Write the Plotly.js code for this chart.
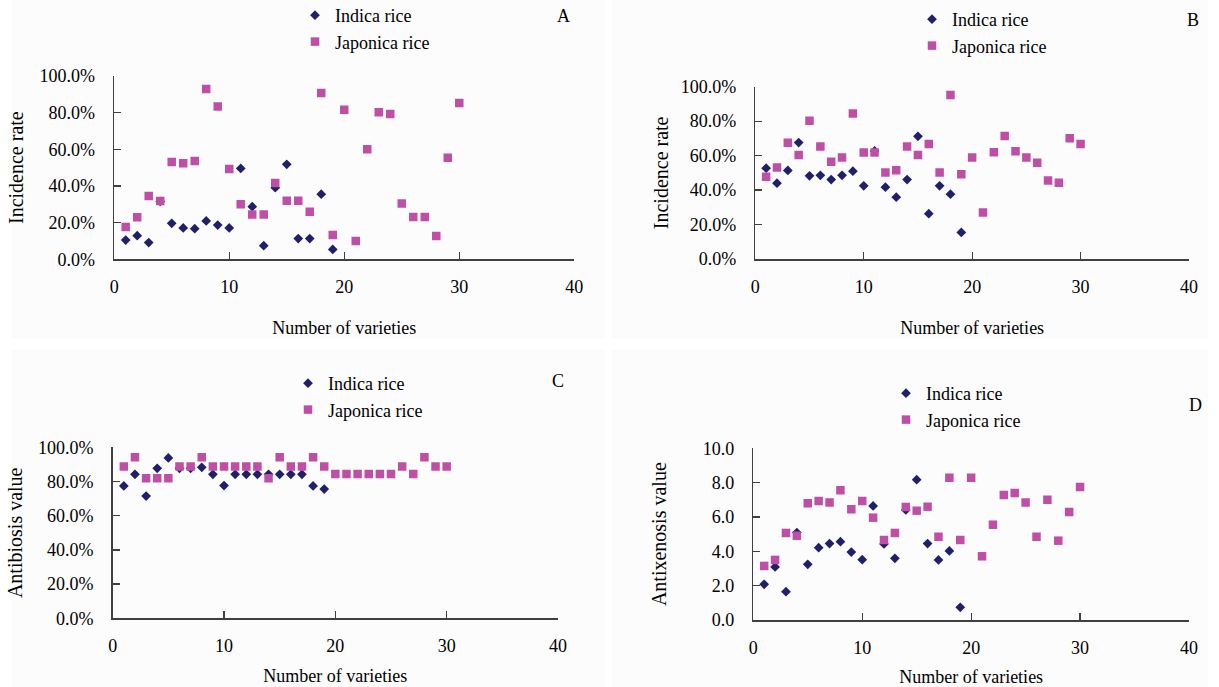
<!DOCTYPE html>
<html><head><meta charset="utf-8">
<script src="https://cdn.plot.ly/plotly-3.0.1.min.js"></script>
<style>html,body{margin:0;padding:0;background:#fff}</style>
</head><body>
<div id="chart" style="width:1219px;height:687px"></div>
<script>
// ---- data ----
const varietiesIndica = [1,2,3,4,5,6,7,8,9,10,11,12,13,14,15,16,17,18,19];
const varietiesJaponica = [1,2,3,4,5,6,7,8,9,10,11,12,13,14,15,16,17,18,19,20,21,22,23,24,25,26,27,28,29,30];

const incidenceA_Indica = [0.105,0.129,0.091,0.316,0.196,0.171,0.167,0.209,0.187,0.171,0.496,0.287,0.074,0.391,0.518,0.113,0.113,0.355,0.054];
const incidenceA_Japonica = [0.176,0.229,0.345,0.318,0.531,0.524,0.536,0.929,0.833,0.493,0.300,0.245,0.245,0.416,0.320,0.320,0.260,0.907,0.133,0.816,0.100,0.600,0.802,0.793,0.305,0.231,0.231,0.127,0.554,0.853];

const incidenceB_Indica = [0.527,0.440,0.514,0.676,0.483,0.486,0.461,0.486,0.510,0.425,0.627,0.417,0.359,0.461,0.712,0.263,0.425,0.376,0.154];
const incidenceB_Japonica = [0.477,0.531,0.674,0.604,0.803,0.653,0.564,0.589,0.844,0.618,0.618,0.502,0.515,0.653,0.604,0.668,0.502,0.952,0.492,0.589,0.270,0.620,0.714,0.625,0.589,0.558,0.456,0.442,0.701,0.668];

const antibiosis_Indica = [0.774,0.842,0.715,0.877,0.938,0.877,0.877,0.883,0.842,0.776,0.842,0.842,0.842,0.842,0.842,0.842,0.842,0.774,0.756];
const antibiosis_Japonica = [0.887,0.942,0.819,0.819,0.819,0.887,0.887,0.942,0.887,0.887,0.887,0.887,0.887,0.819,0.942,0.887,0.887,0.942,0.887,0.844,0.844,0.844,0.844,0.844,0.844,0.887,0.844,0.942,0.887,0.887];

const antixenosis_Indica = [2.08,3.09,1.65,5.09,3.24,4.21,4.45,4.56,3.96,3.51,6.64,4.43,3.59,6.41,8.17,4.45,3.50,4.02,0.74];
const antixenosis_Japonica = [3.15,3.50,5.07,4.91,6.80,6.93,6.85,7.55,6.45,6.93,5.96,4.66,5.07,6.58,6.37,6.60,4.85,8.29,4.66,8.29,3.71,5.55,7.28,7.40,6.85,4.85,7.01,4.62,6.29,7.75];

const seriesNames = ['Indica rice','Japonica rice'];
const panelLetters = ['A','B','C','D'];
const xTitle = 'Number of varieties';
const yTitles = ['Incidence rate','Incidence rate','Antibiosis value','Antixenosis value'];

// ---- styling / placement (pixels of the 1219x687 page) ----
const W = 1219, H = 687;
const ML = 30, MR = 30, MT = 60, MB = 30;
const fx = p => (p - ML) / (W - ML - MR);
const fy = p => 1 - (p - MT) / (H - MT - MB);
const FONT = 'Liberation Serif, Times New Roman, serif';
const COL_I = '#1f1f6b', COL_J = '#bf4fa6';
const AX = '#404040';

const panels = [
  {x:[114.2,574.3], y:[76,259.3],   xa:'x',  ya:'y',  leg:'legend',  ydata:[incidenceA_Indica,incidenceA_Japonica]},
  {x:[755.3,1199.5],y:[86.7,259],   xa:'x2', ya:'y2', leg:'legend2', ydata:[incidenceB_Indica,incidenceB_Japonica]},
  {x:[112.7,558],   y:[447.3,618.3],xa:'x3', ya:'y3', leg:'legend3', ydata:[antibiosis_Indica,antibiosis_Japonica]},
  {x:[753.3,1203.2],y:[448.3,620],  xa:'x4', ya:'y4', leg:'legend4', ydata:[antixenosis_Indica,antixenosis_Japonica]}
];

const traces = [];
panels.forEach((p,i) => {
  traces.push({type:'scatter', mode:'markers', x:varietiesIndica, y:p.ydata[0], name:seriesNames[0],
    xaxis:p.xa, yaxis:p.ya, legend:p.leg,
    marker:{symbol:'diamond', size:7.5, color:COL_I}});
  traces.push({type:'scatter', mode:'markers', x:varietiesJaponica, y:p.ydata[1], name:seriesNames[1],
    xaxis:p.xa, yaxis:p.ya, legend:p.leg,
    marker:{symbol:'square', size:8.5, color:COL_J}});
});

const tickfont = {family:FONT, size:18, color:'#000'};
const xtitlefont = {family:FONT, size:18, color:'#000'};
const ytitlefont = {family:FONT, size:20, color:'#000'};

function xAxis(p, anchor, standoff){
  return {domain:[fx(p.x[0]), fx(p.x[1])], anchor:anchor, range:[0,40], tick0:0, dtick:10,
    ticks:'inside', ticklen:7, tickwidth:1.2, tickcolor:AX, showline:true, linecolor:AX, linewidth:1.5,
    showgrid:false, zeroline:false, tickfont:tickfont, ticklabelstandoff:11, automargin:false,
    title:{text:xTitle, font:xtitlefont, standoff:standoff}};
}
function yAxis(p, anchor, isD, standoff){
  return {domain:[fy(p.y[1]), fy(p.y[0])], anchor:anchor,
    range: isD ? [0,10] : [0,1], tick0:0, dtick: isD ? 2 : 0.2, tickformat: isD ? '.1f' : '.1%',
    ticks:'inside', ticklen:7, tickwidth:1.2, tickcolor:AX, showline:true, linecolor:AX, linewidth:1.5,
    showgrid:false, zeroline:false, tickfont:tickfont, ticklabelstandoff:14, automargin:false,
    title:{text:'', font:ytitlefont, standoff:standoff}};
}

const PANEL_BG = '#fcfcfc';
const letter = (t, x, y) => ({text:t, x:fx(x), y:fy(y), xref:'paper', yref:'paper', xanchor:'center', yanchor:'middle', showarrow:false, font:xtitlefont});
const layout = {
  width:W, height:H, margin:{l:ML,r:MR,t:MT,b:MB, autoexpand:false},
  paper_bgcolor:'#ffffff', plot_bgcolor:'rgba(0,0,0,0)',
  showlegend:true,
  xaxis: xAxis(panels[0],'y',25),
  yaxis: yAxis(panels[0],'x',false,10),
  xaxis2: xAxis(panels[1],'y2',25),
  yaxis2: yAxis(panels[1],'x2',false,6),
  xaxis3: xAxis(panels[2],'y3',14),
  yaxis3: yAxis(panels[2],'x3',false,10),
  xaxis4: xAxis(panels[3],'y4',14),
  yaxis4: yAxis(panels[3],'x4',true,30),
  shapes: [
    {type:'rect', xref:'paper', yref:'paper', x0:fx(12), x1:fx(605), y0:fy(338), y1:fy(0), fillcolor:PANEL_BG, line:{width:0}, layer:'below'},
    {type:'rect', xref:'paper', yref:'paper', x0:fx(612), x1:fx(1208), y0:fy(338), y1:fy(0), fillcolor:PANEL_BG, line:{width:0}, layer:'below'},
    {type:'rect', xref:'paper', yref:'paper', x0:fx(12), x1:fx(605), y0:fy(687), y1:fy(350), fillcolor:PANEL_BG, line:{width:0}, layer:'below'},
    {type:'rect', xref:'paper', yref:'paper', x0:fx(612), x1:fx(1208), y0:fy(687), y1:fy(350), fillcolor:PANEL_BG, line:{width:0}, layer:'below'}
  ],
  annotations: [
    letter(panelLetters[0], 563, 16),
    letter(panelLetters[1], 1193, 20),
    letter(panelLetters[2], 558, 381),
    letter(panelLetters[3], 1195, 405)
  ]
};
['yaxis','yaxis2','yaxis3','yaxis4'].forEach((k,i)=>{ layout[k].title.text = yTitles[i]; });

const legFont = {family:FONT, size:18, color:'#000'};
const legBase = {xanchor:'left', yanchor:'top', xref:'paper', yref:'paper', bgcolor:'rgba(0,0,0,0)', font:legFont, tracegroupgap:0, itemwidth:30};
layout.legend  = Object.assign({}, legBase, {x:fx(295), y:fy(-3)});
layout.legend2 = Object.assign({}, legBase, {x:fx(912), y:fy(1)});
layout.legend3 = Object.assign({}, legBase, {x:fx(288), y:fy(365)});
layout.legend4 = Object.assign({}, legBase, {x:fx(886), y:fy(375)});

Plotly.newPlot('chart', traces, layout, {displayModeBar:false, staticPlot:true});
</script>
</body></html>
